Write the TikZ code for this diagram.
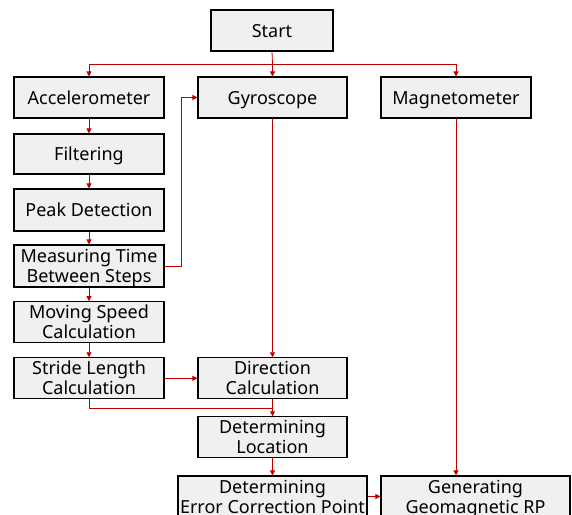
\documentclass[tikz,border=0pt]{standalone}
\usepackage{fontspec}
\setmainfont{Noto Sans}
\usetikzlibrary{arrows.meta}
\definecolor{linered}{HTML}{C00000}
\definecolor{boxfill}{HTML}{F0F0F0}
\newcommand{\oneln}[1]{\smash{#1}\rule{0pt}{13pt}}
\newcommand{\twoln}[2]{\smash{#1}\rule{0pt}{13pt}\\\smash{#2}}
\tikzset{
  box/.style={draw=black, fill=boxfill, line width=1.1pt, inner sep=0pt, align=center,
    font=\fontsize{18}{20}\selectfont, minimum width=150pt, minimum height=41pt},
  link/.style={draw=linered, line width=0.8pt, -{Triangle[length=5pt,width=5pt]}},
  plain/.style={draw=linered, line width=0.8pt}
}
\begin{document}
\begin{tikzpicture}[x=1pt,y=-1pt]
\useasboundingbox (0,0) rectangle (572,514);
\clip (0,0) rectangle (572,514);
\fill[white] (0,0) rectangle (572,514);
\node[box, minimum width=122pt] (start) at (272,30.5) {\oneln{Start}};
\node[box] (acc) at (89,97.5) {\oneln{Accelerometer}};
\node[box, minimum width=149pt] (gyro) at (272.5,97.5) {\oneln{Gyroscope}};
\node[box] (mag) at (456,97.5) {\oneln{Magnetometer}};
\node[box, minimum height=40pt] (filt) at (89,154) {\oneln{Filtering}};
\node[box, minimum height=42pt] (peak) at (89,210) {\oneln{Peak Detection}};
\node[box, minimum height=42pt] (meas) at (89,266) {\twoln{Measuring Time}{Between Steps}};
\node[box, minimum height=40.5pt] (move) at (89,322) {\twoln{Moving Speed}{Calculation}};
\node[box] (stride) at (89,378.3) {\twoln{Stride Length}{Calculation}};
\node[box, minimum width=149pt] (dir) at (272.5,378.3) {\twoln{Direction}{Calculation}};
\node[box, minimum width=149pt] (loc) at (272.5,437.3) {\twoln{Determining}{Location}};
\node[box, minimum width=189pt] (err) at (272.5,496.5) {\twoln{Determining}{Error Correction Point}};
\node[box, minimum width=189pt] (gen) at (475.5,496.5) {\twoln{Generating}{Geomagnetic RP}};
\coordinate (split) at (272.5,64);
\coordinate (fb) at (181,266);
\coordinate (merge) at (89,408.3);
\path[plain] (start.south) -- (split);
\path[link] (split) -| (acc.north);
\path[link] (split) -| (mag.north);
\path[link] (split) -- (gyro.north);
\path[link] (acc) -- (filt);
\path[link] (filt) -- (peak);
\path[link] (peak) -- (meas);
\path[link] (meas) -- (move);
\path[link] (move) -- (stride);
\path[link] (meas.east) -- (fb) |- (gyro.west);
\path[link] (gyro) -- (dir);
\path[link] (stride) -- (dir);
\path[plain] (stride.south) -- (merge) -| (loc.north);
\path[link] (dir) -- (loc);
\path[link] (loc) -- (err);
\path[link] (mag.south) -- (mag.south |- gen.north);
\path[link] (err) -- (gen);
\end{tikzpicture}
\end{document}
